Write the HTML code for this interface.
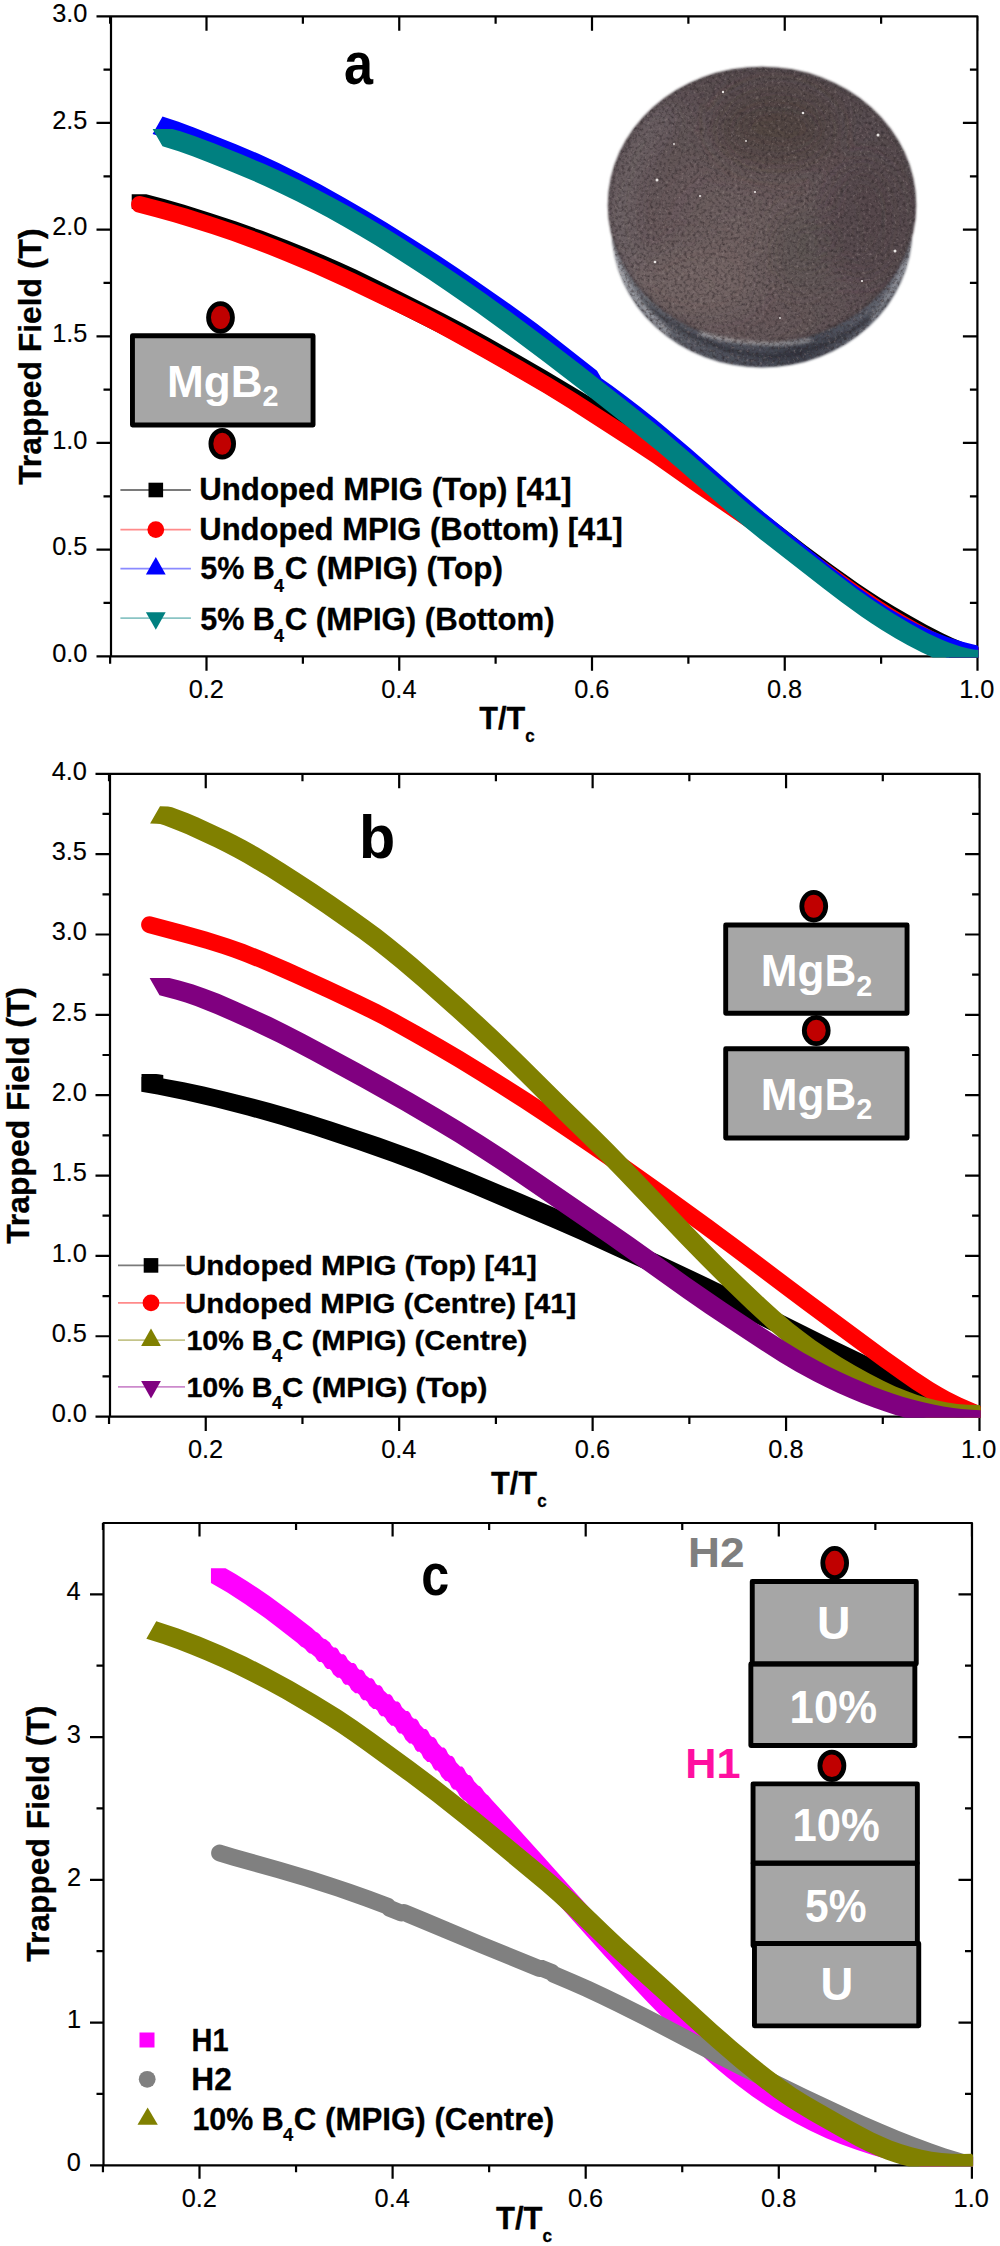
<!DOCTYPE html>
<html lang="en"><head><meta charset="utf-8"><title>Trapped field vs T/Tc</title>
<style>html,body{margin:0;padding:0;background:#fff}svg{display:block}text{font-family:"Liberation Sans",Arial,Helvetica,sans-serif}.b{font-weight:bold}</style></head><body>
<svg width="1000" height="2246" viewBox="0 0 1000 2246" role="img" aria-label="Trapped field versus reduced temperature for MgB2 bulks">
<rect width="1000" height="2246" fill="#fff"/>

<g id="panel-a">

<path d="M111,16.3 H977.4 V656.3 H111 Z M206.5,656.3 v14.5 M206.5,16.3 v14.5 M399.25,656.3 v14.5 M399.25,16.3 v14.5 M592,656.3 v14.5 M592,16.3 v14.5 M784.75,656.3 v14.5 M784.75,16.3 v14.5 M977.5,656.3 v14.5 M977.5,16.3 v14.5 M110.12,656.3 v7.5 M110.12,16.3 v7.5 M302.88,656.3 v7.5 M302.88,16.3 v7.5 M495.62,656.3 v7.5 M495.62,16.3 v7.5 M688.38,656.3 v7.5 M688.38,16.3 v7.5 M881.12,656.3 v7.5 M881.12,16.3 v7.5 M111,656.3 h-14.5 M977.4,656.3 h-14.5 M111,602.97 h-7.5 M977.4,602.97 h-7.5 M111,549.63 h-14.5 M977.4,549.63 h-14.5 M111,496.3 h-7.5 M977.4,496.3 h-7.5 M111,442.97 h-14.5 M977.4,442.97 h-14.5 M111,389.63 h-7.5 M977.4,389.63 h-7.5 M111,336.3 h-14.5 M977.4,336.3 h-14.5 M111,282.97 h-7.5 M977.4,282.97 h-7.5 M111,229.64 h-14.5 M977.4,229.64 h-14.5 M111,176.3 h-7.5 M977.4,176.3 h-7.5 M111,122.97 h-14.5 M977.4,122.97 h-14.5 M111,69.64 h-7.5 M977.4,69.64 h-7.5 M111,16.3 h-14.5 M977.4,16.3 h-14.5" fill="none" stroke="#000" stroke-width="2.2" stroke-linecap="butt" stroke-linejoin="round"/>
<text transform="translate(188.75,698.4) scale(0.9750,1)" font-size="26" stroke="#000" stroke-width="0.15" stroke-linejoin="round">0.2</text><text transform="translate(381.26,698.4) scale(0.9750,1)" font-size="26" stroke="#000" stroke-width="0.15" stroke-linejoin="round">0.4</text><text transform="translate(574.25,698.4) scale(0.9750,1)" font-size="26" stroke="#000" stroke-width="0.15" stroke-linejoin="round">0.6</text><text transform="translate(767,698.4) scale(0.9750,1)" font-size="26" stroke="#000" stroke-width="0.15" stroke-linejoin="round">0.8</text><text transform="translate(959.14,698.4) scale(0.9750,1)" font-size="26" stroke="#000" stroke-width="0.15" stroke-linejoin="round">1.0</text><text transform="translate(52.23,662) scale(0.9750,1)" font-size="26" stroke="#000" stroke-width="0.15" stroke-linejoin="round">0.0</text><text transform="translate(52.23,555.33) scale(0.9750,1)" font-size="26" stroke="#000" stroke-width="0.15" stroke-linejoin="round">0.5</text><text transform="translate(52.23,448.67) scale(0.9750,1)" font-size="26" stroke="#000" stroke-width="0.15" stroke-linejoin="round">1.0</text><text transform="translate(52.23,342) scale(0.9750,1)" font-size="26" stroke="#000" stroke-width="0.15" stroke-linejoin="round">1.5</text><text transform="translate(52.23,235.33) scale(0.9750,1)" font-size="26" stroke="#000" stroke-width="0.15" stroke-linejoin="round">2.0</text><text transform="translate(52.23,128.66) scale(0.9750,1)" font-size="26" stroke="#000" stroke-width="0.15" stroke-linejoin="round">2.5</text><text transform="translate(52.23,22) scale(0.9750,1)" font-size="26" stroke="#000" stroke-width="0.15" stroke-linejoin="round">3.0</text>
<path d="M147.71,213.12 165.72,218.27 185.73,224.34 203.74,230.12 223.75,236.88 241.77,243.28 261.78,250.72 281.79,258.51 301.8,266.63 327.82,277.89 353.83,290.16 427.88,327.43 449.89,338.87 473.9,352.06 499.92,366.8 531.94,385.37 559.96,402.03 583.97,416.7 607.98,431.75 636,449.67 666.02,469.18 682.03,479.83 698.04,490.78 736.06,517.7 756.07,532.62 800.1,566.55 816.11,578.44 832.12,590.02 854.13,605.16 864.14,611.63 876.14,619.05 898.16,631.82 918.17,642.65 936.18,651.69 949.47,657.4 978.5,657.4 978.5,647.53 970.79,645.32 962.79,642.29 952.78,638.02 942.77,633.21 926.77,624.88 910.76,616.1 894.75,606.84 880.74,598.29 870.73,591.87 858.72,583.82 832.71,565.3 806.69,545.89 766.67,514.97 744.66,498.76 710.64,474.79 680.62,454.58 650.6,435.07 622.58,417.15 598.57,402.1 574.56,387.43 546.54,370.77 514.52,352.2 488.5,337.46 464.49,324.27 444.48,313.85 386.44,284.51 356.43,269.78 340.42,262.39 324.41,255.4 306.4,247.92 288.38,240.75 262.37,230.87 236.35,221.59 210.34,212.92 184.32,204.85 164.31,199.08 146.3,194.19 131.7,194.19 131.7,208.79Z" fill="#000"/>
<path d="M131.93,208.02 132.93,209.62 134.26,210.95 135.86,211.95 137.63,212.57 155.63,217.23 173.63,222.29 191.63,227.69 211.63,234.06 231.63,240.82 247.86,246.65 265.86,253.47 283.86,260.63 313.86,273.31 345.86,287.8 405.86,316.54 421.86,324.53 435.86,331.81 455.86,342.65 481.86,357.22 515.86,376.71 543.86,393.08 568.26,408.12 630.26,447.96 652.26,462.62 690.26,489.16 742.26,524.68 788.26,555.55 802.26,565.5 836.26,590.38 856.26,604.45 874.26,616.43 893.86,628.64 909.86,637.86 925.86,646.34 939.86,653.07 950.38,657.4 978.5,657.4 978.5,647.76 971.37,646.49 963.37,644.29 955.14,641.3 945.14,637.03 933.14,631.2 919.14,623.82 907.14,617.05 893.14,608.63 876.74,598.06 858.74,585.77 842.74,574.36 810.74,550.91 796.74,541.03 752.74,511.54 700.74,476.03 662.74,449.49 640.74,434.83 576.74,393.72 551.14,377.94 523.14,361.58 489.14,342.09 463.14,327.52 443.14,316.67 423.14,306.36 401.14,295.59 355.14,273.6 327.14,260.81 303.14,250.46 281.14,241.48 259.14,233 235.37,224.44 211.37,216.38 187.37,208.87 163.37,201.95 141.37,196.19 139.5,195.98 137.63,196.19 135.86,196.81 134.26,197.81 132.93,199.14 131.93,200.74 131.31,202.51 131.1,204.38 131.31,206.25Z" fill="#f00"/>
<path d="M184.64,145.06 220.68,159.39 238.7,166.82 254.72,173.91 272.74,182.41 292.76,192.46 312.78,203.1 334.81,215.36 364.84,232.88 394.88,251.32 430.92,274.27 460.95,294.31 499,320.84 525.03,339.68 545.05,354.97 587.1,388.09 591.13,388.09 588.1,393.41 602.16,403.23 614.2,412.06 628.26,422.82 642.31,433.98 656.37,445.51 686.49,471.1 738.7,516.77 758.77,533.54 827.04,588.64 845.12,602.34 863.19,615.1 881.26,626.79 891.3,632.75 899.33,637.2 909.37,642.36 917.4,646.15 927.44,650.46 935.47,653.57 946.74,657.4 978.5,657.4 978.5,647.17 977.5,645.42 971.48,644.09 963.44,642.02 955.41,639.61 947.38,636.9 933.33,631.39 925.29,627.83 917.26,623.97 903.21,616.49 887.14,606.89 871.08,596.33 853.01,583.46 840.96,574.36 828.91,564.88 760.64,509.54 742.57,494.16 690.37,448.5 672.29,433.14 656.23,419.84 640.17,406.99 626.11,396.17 612.06,385.83 601.36,378.36 597,370.69 548.94,332.92 536.93,323.78 522.91,313.46 502.89,299.2 474.86,279.66 456.84,267.43 438.82,255.57 412.79,238.95 386.76,222.76 366.74,210.71 344.71,197.96 320.68,184.61 298.66,173 278.63,163.07 258.61,153.79 236.59,144.42 194.54,127.66 178.52,121.73 162.5,116.61 152.6,134.01 166.62,138.44Z" fill="#00f"/>
<path d="M178.52,151.35 192.54,156.36 208.56,162.53 232.59,172.17 250.61,179.72 264.63,185.93 280.64,193.39 296.66,201.23 310.68,208.41 326.7,216.96 342.72,225.89 358.74,235.17 374.76,244.77 390.78,254.68 408.8,266.16 428.83,279.28 446.85,291.39 476.89,312.26 508.93,335.44 542.97,360.92 583.02,391.67 627.07,426.41 657.11,450.81 679.13,469.54 729.2,513.43 745.21,526.92 761.23,539.91 823.31,588.35 841.33,602.11 861.36,616.5 871.37,623.25 881.38,629.71 895.4,638.25 907.41,645.04 921.43,652.25 932.73,657.4 978.5,657.4 978.5,650.09 973.38,649.43 967.38,648.26 961.37,646.72 955.36,644.86 949.35,642.71 941.34,639.45 927.33,632.88 911.31,624.31 893.28,613.57 875.26,601.84 857.24,589.15 833.21,570.95 783.15,531.99 763.12,516.07 751.11,506.19 737.09,494.31 689.03,452.14 665,431.74 648.98,418.65 628.96,402.63 580.9,364.96 552.87,343.52 528.84,325.45 506.81,309.24 486.79,294.86 466.76,280.85 446.74,267.22 424.71,252.66 404.69,239.8 386.66,228.59 368.64,217.77 350.62,207.35 332.6,197.39 314.57,187.9 298.55,179.87 280.53,171.29 264.51,164.06 242.49,154.77 214.45,143.56 194.43,136.04 180.41,131.36 172.4,128.93 152.6,128.93 162.5,146.33Z" fill="#008080"/>
<g id="disc">
<defs>
<radialGradient id="dg" gradientUnits="userSpaceOnUse" cx="740" cy="240" r="210">
<stop offset="0" stop-color="#6f6060"/><stop offset="0.4" stop-color="#66585a"/><stop offset="0.75" stop-color="#5a4e51"/><stop offset="1" stop-color="#52484c"/>
</radialGradient>
<linearGradient id="rg" gradientUnits="userSpaceOnUse" x1="608" y1="0" x2="916" y2="0">
<stop offset="0" stop-color="#7c7d84"/><stop offset="0.1" stop-color="#6a6c74"/><stop offset="0.3" stop-color="#52545e"/><stop offset="0.5" stop-color="#474a55"/><stop offset="0.62" stop-color="#3c3f4a"/><stop offset="0.8" stop-color="#555863"/><stop offset="0.92" stop-color="#62656f"/><stop offset="1" stop-color="#7a7c84"/>
</linearGradient>
<filter id="grain" x="0" y="0" width="100%" height="100%" color-interpolation-filters="sRGB">
<feTurbulence type="fractalNoise" baseFrequency="0.32" numOctaves="3" seed="7" result="n"/>
<feColorMatrix in="n" type="matrix" values="0 0 0 0 0  0 0 0 0 0  0 0 0 0 0  1.4 0 0 0 -0.62" result="a"/>
<feFlood flood-color="#2a2225" result="d"/>
<feComposite in="d" in2="a" operator="in" result="dark"/>
<feColorMatrix in="n" type="matrix" values="0 0 0 0 0  0 0 0 0 0  0 0 0 0 0  0 -1.4 0 0 0.58" result="b"/>
<feFlood flood-color="#9c8e8c" result="l"/>
<feComposite in="l" in2="b" operator="in" result="light"/>
<feMerge><feMergeNode in="dark"/><feMergeNode in="light"/></feMerge>
</filter>
<filter id="soft" x="-5%" y="-5%" width="110%" height="110%"><feGaussianBlur stdDeviation="0.8"/></filter>
<filter id="soft2" x="-20%" y="-20%" width="140%" height="140%"><feGaussianBlur stdDeviation="1.6"/></filter>
<filter id="soft3" x="-50%" y="-50%" width="200%" height="200%"><feGaussianBlur stdDeviation="14"/></filter>
<clipPath id="rimclip"><ellipse cx="762" cy="229.5" rx="150.5" ry="138"/></clipPath>
<clipPath id="faceclip"><ellipse cx="762" cy="205" rx="154.2" ry="138.3"/></clipPath>
<clipPath id="discclip"><ellipse cx="762" cy="229.5" rx="150" ry="137.5"/><ellipse cx="762" cy="205" rx="153.7" ry="137.8"/></clipPath>
</defs>
<g filter="url(#soft)">
<ellipse cx="762" cy="229.5" rx="150.5" ry="138" fill="url(#rg)"/>
<g clip-path="url(#rimclip)" filter="url(#soft2)" fill="none" stroke-linecap="round">
<path d="M640,300 Q700,352 770,357" stroke="#2b2d36" stroke-width="3" opacity="0.8"/>
<path d="M770,357 Q840,352 888,300" stroke="#2b2d36" stroke-width="4" opacity="0.8"/>
<path d="M612,248 Q628,298 668,332" stroke="#c4c6cc" stroke-width="3.5" opacity="0.7"/>
<path d="M905,262 Q895,290 872,318" stroke="#c0c2c8" stroke-width="3" opacity="0.6"/>
</g>
<ellipse cx="762" cy="205" rx="154.2" ry="138.3" fill="url(#dg)"/>
<g clip-path="url(#faceclip)">
<g filter="url(#soft3)">
<ellipse cx="775" cy="130" rx="60" ry="40" fill="#41352f" opacity="0.45"/>
<ellipse cx="860" cy="220" rx="40" ry="60" fill="#41363a" opacity="0.35"/>
<ellipse cx="800" cy="250" rx="30" ry="40" fill="#4a4a44" opacity="0.35"/>
<ellipse cx="690" cy="285" rx="60" ry="35" fill="#7d6d6c" opacity="0.5"/>
<path d="M668,108 Q622,160 618,215 Q618,250 632,280" fill="none" stroke="#8f878d" stroke-width="14" opacity="0.6" stroke-linecap="round"/>
</g>
<ellipse cx="762" cy="205" rx="153.5" ry="137.6" fill="none" stroke="#3a3438" stroke-width="2.5" opacity="0.6" filter="url(#soft2)"/>
</g>
<path d="M700,333 Q735,343.5 775,344 Q795,343.5 810,340" fill="none" stroke="#d6d2d2" stroke-width="2.6" opacity="0.85" filter="url(#soft2)" stroke-linecap="round"/>
</g>
<rect x="604" y="62" width="316" height="310" clip-path="url(#discclip)" filter="url(#grain)"/>
<g fill="#e8e4e2">
<circle cx="657" cy="180" r="1.5"/><circle cx="723" cy="92" r="1.2"/><circle cx="803" cy="113" r="1.3"/><circle cx="878" cy="135" r="1.5"/>
<circle cx="700" cy="196" r="1.1"/><circle cx="755" cy="192" r="1.1"/><circle cx="655" cy="262" r="1.3"/><circle cx="895" cy="251" r="1.5"/>
<circle cx="862" cy="281" r="1.1"/><circle cx="746" cy="141" r="0.9"/><circle cx="674" cy="144" r="0.9"/><circle cx="780" cy="318" r="0.9"/>
</g>
</g>
<text transform="translate(344.04,83.5) scale(0.8935,1)" font-size="58.4" class="b">a</text><rect x="132.45" y="335.7" width="180.6" height="89.35" fill="#a6a6a6" stroke="#000" stroke-width="4.9" stroke-linejoin="round"/><ellipse cx="220.5" cy="317.5" rx="11.95" ry="13.85" fill="#c00000" stroke="#000" stroke-width="4.8"/><ellipse cx="222.25" cy="443.75" rx="11.35" ry="13.35" fill="#c00000" stroke="#000" stroke-width="4.8"/><text transform="translate(167.01,396.75) scale(0.9954,1)" font-size="44.3" class="b" fill="#fff">MgB<tspan font-size="29" dy="9.6">2</tspan></text><line x1="120.4" y1="490" x2="190.9" y2="490" stroke="#7a7a7a" stroke-width="1.8"/><rect x="148.5" y="482.7" width="14.6" height="14.6" fill="#000"/><text transform="translate(199.24,500) scale(1.0075,1)" font-size="31" class="b" stroke="#000" stroke-width="0.3" stroke-linejoin="round">Undoped MPIG (Top) [41]</text><line x1="120.4" y1="529.6" x2="190.9" y2="529.6" stroke="#ff8a8a" stroke-width="1.8"/><circle cx="155.8" cy="529.6" r="8.4" fill="#f00"/><text transform="translate(199.25,539.6)" font-size="31" class="b" stroke="#000" stroke-width="0.3" stroke-linejoin="round">Undoped MPIG (Bottom) [41]</text><line x1="120.4" y1="568.6" x2="190.9" y2="568.6" stroke="#8a8aff" stroke-width="1.8"/><polygon points="155.8,557 165.7,574.4 145.9,574.4" fill="#00f"/><text stroke-linejoin="round" class="b"><tspan x="200.26" y="579.2" font-size="31" textLength="74.63" lengthAdjust="spacingAndGlyphs" stroke="#000" stroke-width="0.3">5% B</tspan><tspan x="274.14" y="591.8" font-size="17.5" textLength="10.04" lengthAdjust="spacingAndGlyphs" stroke="#000" stroke-width="0.2">4</tspan><tspan x="284.73" y="579.2" font-size="31" textLength="218.18" lengthAdjust="spacingAndGlyphs" stroke="#000" stroke-width="0.3">C (MPIG) (Top)</tspan></text><line x1="120.4" y1="618.1" x2="190.9" y2="618.1" stroke="#8ac4c4" stroke-width="1.8"/><polygon points="155.8,629.7 165.7,612.3 145.9,612.3" fill="#008080"/><text stroke-linejoin="round" class="b"><tspan x="200.26" y="629.6" font-size="31" textLength="74.63" lengthAdjust="spacingAndGlyphs" stroke="#000" stroke-width="0.3">5% B</tspan><tspan x="274.14" y="642.2" font-size="17.5" textLength="10.04" lengthAdjust="spacingAndGlyphs" stroke="#000" stroke-width="0.2">4</tspan><tspan x="284.74" y="629.6" font-size="31" textLength="269.82" lengthAdjust="spacingAndGlyphs" stroke="#000" stroke-width="0.3">C (MPIG) (Bottom)</tspan></text><text transform="translate(479.26,729.25) scale(0.9690,1)" font-size="31.6" class="b" stroke="#000" stroke-width="0.3" stroke-linejoin="round">T/T<tspan font-size="17.5" dy="12.6">c</tspan></text><text transform="translate(41.2,484.85) rotate(-90) scale(0.9949,1)" font-size="32" class="b" stroke="#000" stroke-width="0.3" stroke-linejoin="round">Trapped Field (T)</text>
</g>
<g id="panel-b">

<path d="M110,773.8 H979.6 V1416.6 H110 Z M205.75,1416.6 v14.5 M205.75,773.8 v14.5 M399.19,1416.6 v14.5 M399.19,773.8 v14.5 M592.63,1416.6 v14.5 M592.63,773.8 v14.5 M786.07,1416.6 v14.5 M786.07,773.8 v14.5 M979.51,1416.6 v14.5 M979.51,773.8 v14.5 M109.03,1416.6 v7.5 M109.03,773.8 v7.5 M302.47,1416.6 v7.5 M302.47,773.8 v7.5 M495.91,1416.6 v7.5 M495.91,773.8 v7.5 M689.35,1416.6 v7.5 M689.35,773.8 v7.5 M882.79,1416.6 v7.5 M882.79,773.8 v7.5 M110,1416.6 h-14.5 M979.6,1416.6 h-14.5 M110,1376.42 h-7.5 M979.6,1376.42 h-7.5 M110,1336.25 h-14.5 M979.6,1336.25 h-14.5 M110,1296.07 h-7.5 M979.6,1296.07 h-7.5 M110,1255.9 h-14.5 M979.6,1255.9 h-14.5 M110,1215.72 h-7.5 M979.6,1215.72 h-7.5 M110,1175.55 h-14.5 M979.6,1175.55 h-14.5 M110,1135.38 h-7.5 M979.6,1135.38 h-7.5 M110,1095.2 h-14.5 M979.6,1095.2 h-14.5 M110,1055.02 h-7.5 M979.6,1055.02 h-7.5 M110,1014.85 h-14.5 M979.6,1014.85 h-14.5 M110,974.67 h-7.5 M979.6,974.67 h-7.5 M110,934.5 h-14.5 M979.6,934.5 h-14.5 M110,894.32 h-7.5 M979.6,894.32 h-7.5 M110,854.15 h-14.5 M979.6,854.15 h-14.5 M110,813.97 h-7.5 M979.6,813.97 h-7.5 M110,773.8 h-14.5 M979.6,773.8 h-14.5" fill="none" stroke="#000" stroke-width="2.2" stroke-linecap="butt" stroke-linejoin="round"/>
<text transform="translate(187.95,1457.6) scale(0.9750,1)" font-size="26" stroke="#000" stroke-width="0.15" stroke-linejoin="round">0.2</text><text transform="translate(381.15,1457.6) scale(0.9750,1)" font-size="26" stroke="#000" stroke-width="0.15" stroke-linejoin="round">0.4</text><text transform="translate(574.83,1457.6) scale(0.9750,1)" font-size="26" stroke="#000" stroke-width="0.15" stroke-linejoin="round">0.6</text><text transform="translate(768.27,1457.6) scale(0.9750,1)" font-size="26" stroke="#000" stroke-width="0.15" stroke-linejoin="round">0.8</text><text transform="translate(961.1,1457.6) scale(0.9750,1)" font-size="26" stroke="#000" stroke-width="0.15" stroke-linejoin="round">1.0</text><text transform="translate(51.63,1422.3) scale(0.9750,1)" font-size="26" stroke="#000" stroke-width="0.15" stroke-linejoin="round">0.0</text><text transform="translate(51.63,1341.95) scale(0.9750,1)" font-size="26" stroke="#000" stroke-width="0.15" stroke-linejoin="round">0.5</text><text transform="translate(51.63,1261.6) scale(0.9750,1)" font-size="26" stroke="#000" stroke-width="0.15" stroke-linejoin="round">1.0</text><text transform="translate(51.63,1181.25) scale(0.9750,1)" font-size="26" stroke="#000" stroke-width="0.15" stroke-linejoin="round">1.5</text><text transform="translate(51.63,1100.9) scale(0.9750,1)" font-size="26" stroke="#000" stroke-width="0.15" stroke-linejoin="round">2.0</text><text transform="translate(51.63,1020.55) scale(0.9750,1)" font-size="26" stroke="#000" stroke-width="0.15" stroke-linejoin="round">2.5</text><text transform="translate(51.63,940.2) scale(0.9750,1)" font-size="26" stroke="#000" stroke-width="0.15" stroke-linejoin="round">3.0</text><text transform="translate(51.63,859.85) scale(0.9750,1)" font-size="26" stroke="#000" stroke-width="0.15" stroke-linejoin="round">3.5</text><text transform="translate(51.63,779.5) scale(0.9750,1)" font-size="26" stroke="#000" stroke-width="0.15" stroke-linejoin="round">4.0</text>
<path d="M163.3,1074.9 158.5,1074.15 156.1,1074 141.5,1074 141.5,1077.09 141.3,1077.09 141.3,1091.69 157.32,1094.51 185.35,1100.21 215.38,1107.21 247.41,1115.48 279.45,1124.55 313.49,1135.11 357.53,1149.72 391.57,1161.71 421.6,1173.1 443.63,1181.95 473.66,1194.37 551.74,1227.42 579.77,1239.83 639.84,1267.29 673.88,1283.25 705.91,1298.67 741.95,1316.39 810.02,1350.26 858.08,1373.65 890.11,1389.59 902.12,1395.32 912.13,1399.84 932.16,1408.23 956.68,1417.7 980.7,1417.7 980.7,1406.56 960.77,1399.13 944.75,1392.83 928.74,1386.12 914.72,1379.79 902.71,1374.01 870.67,1358.07 828.63,1337.63 750.54,1298.82 708.5,1278.24 662.45,1256.41 600.38,1227.95 568.35,1213.69 522.3,1194.08 470.24,1172.29 436.2,1158.5 418.18,1151.56 400.16,1144.93 380.14,1137.87 356.12,1129.71 332.09,1121.8 310.07,1114.81 290.05,1108.77 270.02,1103.07 248,1097.16 225.98,1091.64 203.95,1086.5 183.93,1082.24 163.3,1078.39Z" fill="#000"/>
<path d="M141.93,928.33 142.93,929.93 144.26,931.26 145.86,932.26 147.63,932.88 189.63,944.17 205.63,948.83 221.63,953.83 231.86,957.3 243.86,961.78 257.86,967.37 271.86,973.28 293.86,983.02 327.86,998.58 347.86,1007.9 363.86,1015.67 379.86,1023.87 395.86,1032.47 415.86,1043.64 435.86,1055.17 455.86,1067.01 477.86,1080.39 498.26,1093.14 520.26,1107.23 542.26,1121.66 564.26,1136.39 588.26,1152.77 614.26,1170.83 654.26,1199.17 700.26,1232.43 730.26,1254.67 784.26,1295.52 804.26,1310.44 880.26,1366.47 898.26,1379.33 912.26,1388.9 927.86,1398.8 939.86,1405.76 951.86,1411.98 964.81,1417.7 980.7,1417.7 980.7,1406.23 961.14,1397.76 949.14,1391.72 941.14,1387.23 933.14,1382.44 916.74,1371.73 888.74,1351.88 812.74,1295.82 740.74,1241.53 712.74,1220.76 666.74,1187.47 624.74,1157.7 598.74,1139.64 574.74,1123.26 552.74,1108.53 530.74,1094.1 508.74,1080 485.14,1065.26 463.14,1051.87 443.14,1040.03 419.14,1026.24 397.14,1014.07 379.14,1004.58 361.14,995.63 329.14,980.68 289.14,962.52 265.14,952.23 245.14,944.37 229.37,938.76 207.37,931.85 183.37,925.02 151.37,916.5 149.5,916.29 147.63,916.5 145.86,917.12 144.26,918.12 142.93,919.45 141.93,921.04 141.31,922.82 141.1,924.69 141.31,926.56Z" fill="#f00"/>
<path d="M164.13,825.23 178.15,830.64 186.17,834.1 214.22,847.08 224.24,851.9 234.25,857.13 244.27,862.69 266.31,875.8 282.34,885.91 302.38,899.03 322.42,912.53 342.45,926.4 358.48,937.86 372.51,948.29 384.53,957.64 396.55,967.46 418.59,986.36 454.66,1018.24 474.69,1036.54 496.73,1057.34 518.77,1078.79 558.85,1118.72 588.9,1147.93 602.93,1161.87 618.96,1178.37 681.07,1243.58 701.11,1264.04 719.14,1281.95 747.19,1308.96 767.23,1327.42 783.26,1341.11 791.27,1347.47 799.29,1353.49 811.31,1361.93 825.34,1371.05 841.37,1380.81 855.39,1388.82 867.41,1395.21 879.43,1401.07 891.46,1406.32 903.48,1410.93 915.5,1414.82 926.46,1417.7 980.7,1417.7 980.7,1407.14 979.5,1405.03 967.48,1404.78 957.46,1403.95 947.44,1402.53 937.42,1400.55 927.4,1398 917.39,1394.91 907.37,1391.31 895.35,1386.38 883.32,1380.82 869.3,1373.61 855.27,1365.76 841.25,1357.39 827.22,1348.52 815.2,1340.4 803.18,1331.61 793.16,1323.71 779.13,1311.79 765.11,1299.06 745.07,1280.1 723.03,1258.64 707,1242.6 688.97,1224.11 628.86,1160.97 612.83,1144.47 598.8,1130.53 566.74,1099.35 524.67,1057.44 498.62,1032.3 480.59,1015.43 464.56,1000.84 438.51,977.75 416.47,958.54 404.45,948.39 392.43,938.65 380.4,929.37 368.38,920.46 352.35,909 334.32,896.5 316.29,884.3 298.25,872.4 284.23,863.4 270.2,854.72 258.18,847.59 246.16,840.82 236.14,835.51 228.12,831.56 198.07,817.61 188.05,813.24 172.02,807.18 168.01,806.41 160,806.21 150.1,823.61 156.68,823.74 160.12,824.09Z" fill="#808000"/>
<path d="M175.5,999.53 185.5,1002.62 195.5,1006.1 205.5,1009.91 215.5,1014.02 231.5,1020.99 251.5,1030.08 277.5,1042.61 293.5,1050.78 311.5,1060.3 361.5,1087.62 401.5,1110.08 435.5,1129.92 455.5,1142.08 475.5,1154.65 497.5,1168.95 519.5,1183.66 607.5,1243.91 683.5,1297.9 705.5,1313.13 725.5,1326.58 761.5,1350.21 779.5,1361.68 795.5,1371.2 813.5,1380.98 825.5,1387 837.5,1392.7 849.5,1398.05 861.5,1403.02 873.5,1407.6 883.5,1411.1 895.5,1414.9 905.45,1417.7 980.7,1417.7 980.7,1410.14 971.4,1409.72 961.4,1408.88 953.4,1407.94 943.4,1406.43 933.4,1404.56 923.4,1402.33 913.4,1399.78 903.4,1396.89 893.4,1393.7 883.4,1390.2 873.4,1386.41 863.4,1382.35 853.4,1378.02 841.4,1372.49 829.4,1366.63 819.4,1361.49 803.4,1352.66 785.4,1341.79 759.4,1324.98 725.4,1302.51 689.4,1277.69 633.4,1237.76 615.4,1225.13 533.4,1168.98 507.4,1151.55 483.4,1135.98 461.4,1122.21 439.4,1108.95 413.4,1093.82 387.4,1079.11 359.4,1063.61 327.4,1046.13 305.4,1034.42 287.4,1025.21 271.4,1017.37 255.4,1009.93 235.4,1000.93 219.4,994.12 205.4,988.7 193.4,984.56 179.4,980.45 169.4,977.89 149.6,977.89 159.5,995.29Z" fill="#800080"/>
<text transform="translate(359.01,857.5) scale(0.9724,1)" font-size="61" class="b">b</text><rect x="725.7" y="924.95" width="181.35" height="88.35" fill="#a6a6a6" stroke="#000" stroke-width="4.9" stroke-linejoin="round"/><rect x="725.7" y="1048.7" width="181.35" height="89.35" fill="#a6a6a6" stroke="#000" stroke-width="4.9" stroke-linejoin="round"/><ellipse cx="813.75" cy="906.25" rx="11.95" ry="13.85" fill="#c00000" stroke="#000" stroke-width="4.8"/><ellipse cx="816.25" cy="1030.5" rx="11.95" ry="13.1" fill="#c00000" stroke="#000" stroke-width="4.8"/><text transform="translate(760.76,986.25) scale(0.9954,1)" font-size="44.3" class="b" fill="#fff">MgB<tspan font-size="29" dy="9.6">2</tspan></text><text transform="translate(760.76,1109.5) scale(0.9954,1)" font-size="44.3" class="b" fill="#fff">MgB<tspan font-size="29" dy="9.6">2</tspan></text><line x1="118" y1="1265.4" x2="185" y2="1265.4" stroke="#7a7a7a" stroke-width="1.8"/><rect x="143.7" y="1258.1" width="14.6" height="14.6" fill="#000"/><text transform="translate(185.01,1275.4) scale(1.0618,1)" font-size="27.8" class="b" stroke="#000" stroke-width="0.3" stroke-linejoin="round">Undoped MPIG (Top) [41]</text><line x1="118" y1="1302.9" x2="185" y2="1302.9" stroke="#ff8a8a" stroke-width="1.8"/><circle cx="151" cy="1302.9" r="8.4" fill="#f00"/><text transform="translate(185.02,1312.6) scale(1.0562,1)" font-size="27.8" class="b" stroke="#000" stroke-width="0.3" stroke-linejoin="round">Undoped MPIG (Centre) [41]</text><line x1="118" y1="1340.1" x2="185" y2="1340.1" stroke="#c4c48a" stroke-width="1.8"/><polygon points="151,1328.5 160.9,1345.9 141.1,1345.9" fill="#808000"/><text stroke-linejoin="round" class="b"><tspan x="186.45" y="1349.8" font-size="27.8" textLength="85.97" lengthAdjust="spacingAndGlyphs" stroke="#000" stroke-width="0.3">10% B</tspan><tspan x="272.14" y="1361.6" font-size="17.5" textLength="10.25" lengthAdjust="spacingAndGlyphs" stroke="#000" stroke-width="0.2">4</tspan><tspan x="282.14" y="1349.8" font-size="27.8" textLength="245.27" lengthAdjust="spacingAndGlyphs" stroke="#000" stroke-width="0.3">C (MPIG) (Centre)</tspan></text><line x1="118" y1="1386.9" x2="185" y2="1386.9" stroke="#cc8acc" stroke-width="1.8"/><polygon points="151,1398.5 160.9,1381.1 141.1,1381.1" fill="#800080"/><text stroke-linejoin="round" class="b"><tspan x="186.45" y="1397.2" font-size="27.8" textLength="85.97" lengthAdjust="spacingAndGlyphs" stroke="#000" stroke-width="0.3">10% B</tspan><tspan x="272.14" y="1409" font-size="17.5" textLength="10.25" lengthAdjust="spacingAndGlyphs" stroke="#000" stroke-width="0.2">4</tspan><tspan x="282.13" y="1397.2" font-size="27.8" textLength="205.37" lengthAdjust="spacingAndGlyphs" stroke="#000" stroke-width="0.3">C (MPIG) (Top)</tspan></text><text transform="translate(491.01,1494) scale(0.9735,1)" font-size="31.6" class="b" stroke="#000" stroke-width="0.3" stroke-linejoin="round">T/T<tspan font-size="17.5" dy="12.6">c</tspan></text><text transform="translate(29.2,1243.85) rotate(-90) scale(0.9965,1)" font-size="32" class="b" stroke="#000" stroke-width="0.3" stroke-linejoin="round">Trapped Field (T)</text>
</g>
<g id="panel-c">

<path d="M103.5,1523 H972 V2165.3 H103.5 Z M199.5,2165.3 v13.5 M199.5,1523 v13.5 M392.6,2165.3 v13.5 M392.6,1523 v13.5 M585.7,2165.3 v13.5 M585.7,1523 v13.5 M778.8,2165.3 v13.5 M778.8,1523 v13.5 M971.9,2165.3 v13.5 M971.9,1523 v13.5 M102.95,2165.3 v7 M102.95,1523 v7 M296.05,2165.3 v7 M296.05,1523 v7 M489.15,2165.3 v7 M489.15,1523 v7 M682.25,2165.3 v7 M682.25,1523 v7 M875.35,2165.3 v7 M875.35,1523 v7 M103.5,2165.3 h-13.5 M972,2165.3 h-13.5 M103.5,2093.93 h-7 M972,2093.93 h-7 M103.5,2022.55 h-13.5 M972,2022.55 h-13.5 M103.5,1951.18 h-7 M972,1951.18 h-7 M103.5,1879.8 h-13.5 M972,1879.8 h-13.5 M103.5,1808.43 h-7 M972,1808.43 h-7 M103.5,1737.05 h-13.5 M972,1737.05 h-13.5 M103.5,1665.68 h-7 M972,1665.68 h-7 M103.5,1594.3 h-13.5 M972,1594.3 h-13.5" fill="none" stroke="#000" stroke-width="2.2" stroke-linecap="butt" stroke-linejoin="round"/>
<text transform="translate(181.75,2207) scale(0.9750,1)" font-size="26" stroke="#000" stroke-width="0.15" stroke-linejoin="round">0.2</text><text transform="translate(374.61,2207) scale(0.9750,1)" font-size="26" stroke="#000" stroke-width="0.15" stroke-linejoin="round">0.4</text><text transform="translate(567.95,2207) scale(0.9750,1)" font-size="26" stroke="#000" stroke-width="0.15" stroke-linejoin="round">0.6</text><text transform="translate(761.05,2207) scale(0.9750,1)" font-size="26" stroke="#000" stroke-width="0.15" stroke-linejoin="round">0.8</text><text transform="translate(953.54,2207) scale(0.9750,1)" font-size="26" stroke="#000" stroke-width="0.15" stroke-linejoin="round">1.0</text><text transform="translate(66.74,2171) scale(0.9750,1)" font-size="26" stroke="#000" stroke-width="0.15" stroke-linejoin="round">0</text><text transform="translate(66.98,2028.25) scale(0.9750,1)" font-size="26" stroke="#000" stroke-width="0.15" stroke-linejoin="round">1</text><text transform="translate(66.98,1885.5) scale(0.9750,1)" font-size="26" stroke="#000" stroke-width="0.15" stroke-linejoin="round">2</text><text transform="translate(66.74,1742.75) scale(0.9750,1)" font-size="26" stroke="#000" stroke-width="0.15" stroke-linejoin="round">3</text><text transform="translate(66.49,1600) scale(0.9750,1)" font-size="26" stroke="#000" stroke-width="0.15" stroke-linejoin="round">4</text>
<path d="M226.99,1592.31 245.03,1603.97 265.08,1618.09 279.11,1628.63 297.15,1642.72 301.16,1646.41 303.16,1647.42 305.17,1649 307.17,1651.56 309.18,1653.29 311.18,1653.8 315.19,1657.05 317.2,1660.32 319.2,1662.1 321.35,1662.1 323.21,1663.65 325.22,1667.37 327.22,1669.1 329.54,1669.1 331.23,1670.56 333.23,1674.29 337.24,1677.75 339.57,1677.75 341.25,1679.2 343.26,1682.92 345.26,1684.64 347.6,1684.64 349.27,1686.08 351.28,1689.79 355.29,1693.23 357.61,1693.23 359.29,1694.68 361.3,1698.41 363.3,1700.15 365.6,1700.15 367.31,1701.64 369.32,1705.4 373.33,1708.95 375.56,1708.95 377.34,1710.55 379.34,1714.37 381.35,1716.21 383.51,1716.21 385.35,1717.93 387.36,1721.81 391.37,1725.63 393.44,1725.63 395.38,1727.52 397.38,1731.48 399.39,1733.46 401.4,1733.46 403.4,1735.45 405.4,1739.46 409.41,1743.51 411.42,1743.54 413.42,1745.59 415.42,1749.63 417.43,1751.69 419.43,1751.74 421.44,1753.81 423.44,1757.88 427.45,1762.03 429.46,1762.12 431.46,1764.21 433.47,1768.31 435.47,1770.41 437.48,1770.52 439.48,1772.63 441.49,1776.75 445.49,1781.01 447.5,1781.15 449.5,1783.29 451.51,1787.43 453.51,1789.56 455.52,1789.83 457.52,1792.06 459.53,1795.84 463.54,1800.05 465.54,1801.02 467.55,1803.27 469.55,1806.39 471.56,1808.52 473.56,1810.03 477.57,1814.9 483.58,1821.33 523.68,1865.58 603.86,1955.02 627.92,1981.3 647.96,2002.59 672.02,2027.08 684.05,2038.8 696.08,2050.11 708.1,2060.96 718.13,2069.63 728.15,2077.91 738.17,2085.8 752.21,2096.16 766.24,2105.7 780.27,2114.47 796.31,2123.57 810.34,2130.78 826.38,2138.18 840.41,2143.98 856.45,2149.85 872.49,2154.98 888.52,2159.41 904.56,2163.18 920.92,2166.4 973.1,2166.4 973.1,2157.08 955.24,2154.92 937.2,2152.1 919.16,2148.58 903.12,2144.81 887.09,2140.38 871.05,2135.25 855.01,2129.38 840.98,2123.58 828.95,2118.11 816.92,2112.14 804.9,2105.67 794.87,2099.87 782.84,2092.4 772.82,2085.75 762.8,2078.68 752.77,2071.2 742.75,2063.31 732.73,2055.03 722.7,2046.36 710.68,2035.51 700.65,2026.12 688.63,2014.46 664.57,1990.07 642.52,1966.7 618.46,1940.42 538.28,1850.98 498.18,1806.73 492.17,1800.3 488.16,1795.43 486.16,1793.92 484.15,1791.79 482.15,1788.67 480.14,1786.42 478.14,1785.45 474.13,1781.24 472.12,1777.46 470.12,1775.23 468.11,1774.96 466.11,1772.83 464.1,1768.69 462.1,1766.55 460.09,1766.41 456.09,1762.15 454.08,1758.03 452.08,1755.92 450.07,1755.81 448.07,1753.71 446.06,1749.61 444.06,1747.52 442.05,1747.43 438.04,1743.28 436.04,1739.21 434.03,1737.14 432.03,1737.09 430.02,1735.03 428.02,1730.99 426.02,1728.94 424.01,1728.91 420,1724.86 418,1720.85 415.99,1718.85 413.98,1718.85 411.98,1716.88 409.98,1712.92 407.97,1710.97 405.9,1710.97 401.96,1707.21 399.95,1703.33 397.95,1701.46 395.78,1701.46 393.94,1699.77 391.94,1695.95 389.93,1694.15 387.69,1694.15 383.92,1690.8 381.91,1687.04 379.91,1685.29 377.61,1685.29 375.9,1683.81 373.89,1680.08 371.89,1678.35 369.56,1678.35 365.88,1675.19 363.87,1671.48 361.87,1669.76 359.53,1669.76 357.86,1668.32 355.85,1664.6 353.85,1662.88 351.53,1662.88 347.83,1659.69 345.83,1655.96 343.82,1654.23 341.51,1654.23 339.82,1652.77 337.81,1649.05 335.81,1647.38 333.67,1647.38 331.8,1645.72 329.79,1642.45 325.78,1639.2 323.78,1638.69 321.77,1636.96 319.77,1634.4 317.76,1632.82 315.76,1631.81 311.75,1628.12 289.7,1610.96 269.65,1596.28 257.62,1588.02 247.6,1581.48 235.57,1574.07 225.55,1568.28 210.95,1568.28 210.95,1582.88Z" fill="#f0f"/>
<path d="M211.93,1856.66 212.93,1858.25 214.26,1859.58 215.86,1860.58 217.63,1861.2 231.64,1865.47 275.67,1877.71 303.69,1886.05 335.71,1896.28 363.95,1906.13 382.65,1913.15 384.38,1914.93 385.97,1915.93 397.98,1920.67 399.75,1921.29 401.62,1921.5 403.3,1921.31 405.98,1922.4 478.03,1952.52 536.07,1976.24 537.84,1976.86 539.71,1977.07 540.74,1976.95 547.02,1979.54 548.48,1981.01 550.08,1982.01 566.09,1988.79 582.1,1995.86 598.11,2003.22 614.12,2010.88 642.14,2024.93 710.18,2060.51 744.21,2077.71 816.25,2112.53 840.27,2123.72 864.29,2134.51 886.3,2143.91 906.31,2151.93 926.33,2159.37 946.96,2166.4 973.1,2166.4 973.1,2156.64 959.86,2152.87 945.85,2148.43 931.62,2143.52 915.6,2137.57 899.59,2131.23 883.58,2124.57 865.57,2116.73 847.56,2108.59 807.53,2089.75 743.49,2058.6 715.47,2044.34 651.43,2010.82 623.41,1996.72 607.4,1989.03 591.39,1981.62 575.38,1974.52 558.43,1967.32 556.96,1965.84 555.37,1964.84 545.36,1960.72 543.58,1960.1 541.71,1959.89 540.67,1960 485.32,1937.38 427.28,1913.04 407.27,1904.83 405.49,1904.21 403.62,1904 401.91,1904.19 394.58,1901.31 392.85,1899.52 391.26,1898.52 389.25,1897.75 371.24,1891 351.46,1883.97 333.44,1877.92 313.43,1871.53 281.41,1861.91 235.38,1849.09 221.37,1844.82 219.5,1844.61 217.63,1844.82 215.86,1845.45 214.26,1846.45 212.93,1847.78 211.93,1849.37 211.31,1851.14 211.1,1853.01 211.31,1854.88Z" fill="#808080"/>
<path d="M162.38,1643.82 176.41,1648.8 190.44,1654.17 204.47,1659.92 220.51,1666.96 234.54,1673.51 250.57,1681.43 266.61,1689.8 282.64,1698.61 296.67,1706.67 312.71,1716.24 326.74,1724.94 338.76,1732.74 350.79,1740.95 362.81,1749.45 406.91,1781.58 432.96,1801.35 461.03,1823.5 481.07,1839.85 541.2,1889.66 553.22,1900.22 563.24,1909.44 597.32,1942.31 615.36,1959.23 659.45,1998.94 697.53,2033.77 713.57,2048.11 735.61,2067.02 757.66,2085.08 773.7,2097.25 787.73,2106.86 797.75,2113.11 809.77,2120.16 839.84,2137.3 855.87,2146.08 865.89,2151.1 875.92,2155.6 885.94,2159.55 893.95,2162.29 901.97,2164.66 908.8,2166.4 973.1,2166.4 973.1,2155.67 972,2153.74 961.98,2154.11 951.96,2153.87 941.94,2153.05 931.91,2151.66 921.89,2149.73 911.87,2147.26 901.85,2144.24 891.83,2140.64 883.81,2137.34 873.79,2132.73 863.77,2127.62 851.74,2121.03 819.67,2102.76 807.65,2095.71 795.62,2088.15 783.6,2079.85 771.57,2070.82 755.54,2057.95 735.49,2041.14 717.45,2025.39 669.35,1981.54 623.25,1939.99 609.22,1926.83 579.16,1897.74 567.13,1886.46 555.11,1875.72 543.08,1865.49 476.94,1810.96 456.89,1794.92 436.85,1779.32 412.8,1761.22 374.72,1733.49 356.68,1720.77 340.65,1710.1 316.59,1695.21 292.54,1681.21 268.49,1668.16 246.44,1657.07 234.42,1651.39 222.39,1645.98 200.34,1636.77 178.3,1628.5 156.25,1621.23 146.35,1638.63Z" fill="#808000"/>
<text transform="translate(421.3,1595.4) scale(0.8448,1)" font-size="59.5" class="b">c</text><text transform="translate(688.08,1567) scale(1.0626,1)" font-size="41.6" class="b" fill="#7f7f7f">H2</text><text transform="translate(685.37,1778.4) scale(1.0291,1)" font-size="42" class="b" fill="#ff0fa0">H1</text><rect x="750.85" y="1664.05" width="164" height="81.4" fill="#a6a6a6" stroke="#000" stroke-width="4.9" stroke-linejoin="round"/><rect x="752.25" y="1581.45" width="164" height="82.3" fill="#a6a6a6" stroke="#000" stroke-width="4.9" stroke-linejoin="round"/><rect x="753.05" y="1863.35" width="164.3" height="82.3" fill="#a6a6a6" stroke="#000" stroke-width="4.9" stroke-linejoin="round"/><rect x="753.05" y="1783.85" width="164.3" height="79.2" fill="#a6a6a6" stroke="#000" stroke-width="4.9" stroke-linejoin="round"/><rect x="754.45" y="1943.55" width="164.3" height="82.3" fill="#a6a6a6" stroke="#000" stroke-width="4.9" stroke-linejoin="round"/><ellipse cx="834.7" cy="1563" rx="11.9" ry="14.6" fill="#c00000" stroke="#000" stroke-width="4.8"/><ellipse cx="831.9" cy="1765.8" rx="12" ry="13.7" fill="#c00000" stroke="#000" stroke-width="4.8"/><text transform="translate(817.07,1639.2) scale(0.9912,1)" font-size="46.8" class="b" fill="#fff">U</text><text transform="translate(789.61,1723.2) scale(0.9292,1)" font-size="47" class="b" fill="#fff">10%</text><text transform="translate(792.41,1840.8) scale(0.9292,1)" font-size="47" class="b" fill="#fff">10%</text><text transform="translate(805.04,1922) scale(0.9057,1)" font-size="47" class="b" fill="#fff">5%</text><text transform="translate(820.53,2000.3) scale(0.9699,1)" font-size="46.8" class="b" fill="#fff">U</text><rect x="139.5" y="2032.5" width="15" height="15" fill="#f0f"/><text transform="translate(191.53,2050.6) scale(0.9351,1)" font-size="31" class="b" stroke="#000" stroke-width="0.3" stroke-linejoin="round">H1</text><circle cx="147.2" cy="2079.3" r="8.4" fill="#808080"/><text transform="translate(191.36,2089.8) scale(1.0219,1)" font-size="31" class="b" stroke="#000" stroke-width="0.3" stroke-linejoin="round">H2</text><polygon points="147.65,2107.57 157.8,2124.87 137.5,2124.87" fill="#808000"/><text stroke-linejoin="round" class="b"><tspan x="192.48" y="2129.8" font-size="31" textLength="91.19" lengthAdjust="spacingAndGlyphs" stroke="#000" stroke-width="0.3">10% B</tspan><tspan x="283.14" y="2141.4" font-size="17.5" textLength="10.25" lengthAdjust="spacingAndGlyphs" stroke="#000" stroke-width="0.2">4</tspan><tspan x="293.74" y="2129.8" font-size="31" textLength="260.5" lengthAdjust="spacingAndGlyphs" stroke="#000" stroke-width="0.3">C (MPIG) (Centre)</tspan></text><text transform="translate(496,2229) scale(0.9823,1)" font-size="31.6" class="b" stroke="#000" stroke-width="0.3" stroke-linejoin="round">T/T<tspan font-size="17.5" dy="12.6">c</tspan></text><text transform="translate(49.2,1961.75) rotate(-90) scale(0.9938,1)" font-size="32" class="b" stroke="#000" stroke-width="0.3" stroke-linejoin="round">Trapped Field (T)</text>
</g>
</svg></body></html>
